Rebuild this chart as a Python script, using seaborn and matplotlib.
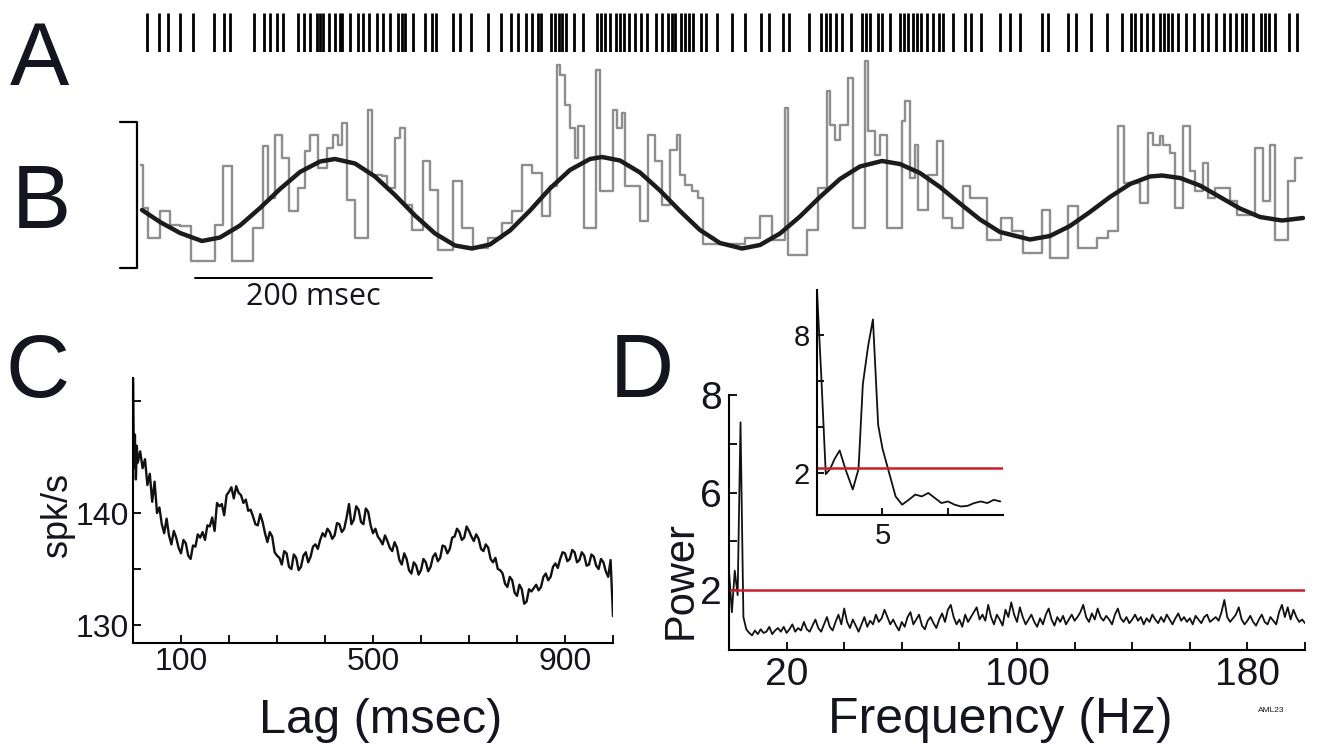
import numpy as np
import pandas as pd
import matplotlib
matplotlib.use("Agg")
import matplotlib.pyplot as plt
from matplotlib.ticker import FixedLocator, FixedFormatter
import seaborn as sns

# ---------------- Panel A : spike raster (ms) ----------------
spike_times_ms = [5.9, 16.0, 23.6, 33.8, 44.7, 62.5, 70.9, 75.9, 96.2, 104.6, 109.7, 115.6, 120.7,
                  133.4, 138.4, 143.5, 149.4, 151.9, 154.5, 159.5, 164.6, 168.8, 170.5, 177.3, 184.0,
                  188.2, 193.3, 200.0, 205.1, 211.0, 217.8, 221.1, 223.7, 230.4, 240.5, 246.5, 249.8,
                  264.2, 270.1, 279.4, 293.7, 304.7, 313.2, 319.1, 325.8, 330.9, 336.0, 338.4, 346.9,
                  350.3, 353.6, 356.2, 359.6, 366.3, 373.9, 385.7, 389.1, 392.5, 396.7, 401.7, 405.1,
                  408.5, 412.7, 417.8, 422.8, 427.9, 435.5, 440.6, 445.6, 449.0, 451.5, 456.6, 460.0,
                  463.4, 466.7, 473.5, 477.7, 487.0, 499.6, 510.6, 524.1, 530.9, 542.7, 547.8, 564.6,
                  574.8, 579.0, 582.4, 587.4, 592.5, 600.1, 609.4, 612.7, 616.1, 622.9, 626.2, 633.0,
                  641.4, 644.8, 648.2, 652.4, 655.8, 659.1, 664.2, 669.3, 674.3, 677.7, 686.2, 696.3,
                  701.4, 709.8, 725.8, 734.3, 742.7, 761.2, 766.4, 783.2, 790.0, 802.6, 816.1, 828.8,
                  836.4, 839.8, 844.8, 849.9, 855.0, 860.9, 864.3, 867.6, 871.0, 876.1, 882.8, 889.6,
                  896.3, 901.4, 908.1, 914.9, 919.9, 925.0, 930.0, 933.5, 939.4, 946.1, 949.5, 952.9,
                  957.9, 969.7, 976.5]

# ---------------- Panel B : instantaneous rate (step) + sinusoidal fit ----------------
rate_edges_ms = [0, 2.5, 6.8, 16.9, 25.3, 33.8, 43.0, 63.3, 70.1, 77.6, 95.4, 103.8, 108.0, 113.9,
                 119.8, 125.7, 133.4, 139.3, 143.5, 150.2, 157.8, 162.9, 167.1, 170.5, 174.7, 181.5,
                 192.4, 195.8, 204.2, 208.5, 215.2, 219.4, 223.7, 229.6, 238.9, 244.8, 251.5, 264.2,
                 271.8, 281.1, 293.7, 305.5, 314.0, 322.4, 330.9, 339.3, 346.0, 351.9, 354.5, 358.7,
                 362.9, 367.1, 369.7, 374.7, 384.9, 388.2, 399.2, 402.6, 406.8, 409.3, 422.0, 428.8,
                 434.7, 440.6, 447.3, 453.2, 455.8, 460.0, 465.9, 471.0, 475.2, 510.6, 523.3, 533.4,
                 544.4, 546.9, 562.9, 572.2, 579.8, 582.4, 586.6, 590.8, 597.6, 601.8, 611.9, 614.4,
                 620.3, 624.6, 630.5, 643.1, 645.7, 649.9, 654.1, 656.6, 665.1, 672.7, 677.7, 685.3,
                 694.6, 700.5, 714.9, 726.7, 736.0, 745.3, 761.3, 768.0, 783.2, 791.7, 807.7, 817.0,
                 825.4, 830.5, 844.0, 850.8, 855.0, 860.9, 863.4, 869.4, 873.5, 880.3, 886.2, 890.4,
                 897.2, 901.4, 907.3, 920.0, 925.8, 941.1, 947.8, 953.7, 957.9, 968.9, 974.8, 980.7]
rate_values = [206, 120, 60, 114, 86, 84, 14, 86, 204, 14,
               80, 244, 140, 266, 220, 114, 160, 234, 266, 200,
               240, 266, 246, 290, 136, 60, 316, 186, 184, 160,
               260, 280, 126, 76, 214, 156, 36, 174, 80, 40,
               60, 90, 114, 206, 190, 104, 164, 406, 386, 326,
               280, 220, 284, 80, 396, 154, 316, 280, 310, 164,
               94, 266, 214, 126, 236, 266, 186, 166, 154, 140,
               48, 60, 104, 56, 320, 26, 76, 160, 354, 286,
               256, 286, 380, 80, 414, 274, 226, 266, 80, 294,
               334, 180, 246, 116, 186, 254, 100, 80, 164, 140,
               56, 100, 74, 30, 116, 20, 124, 40, 60, 74,
               284, 170, 130, 270, 246, 264, 246, 230, 120, 284,
               194, 154, 210, 140, 160, 134, 106, 240, 134, 246,
               56, 174, 220]

fit_t_ms = [1.7, 16.9, 33.8, 52.3, 67.5, 84.4, 101.3, 118.2, 135.0, 151.9, 164.6, 181.5, 198.3,
            215.2, 232.1, 249.0, 265.9, 280.2, 295.4, 312.3, 329.2, 346.0, 362.9, 379.8, 389.9,
            405.1, 422.0, 438.9, 455.8, 472.6, 489.5, 508.1, 523.3, 540.2, 557.0, 573.9, 590.8,
            607.7, 626.2, 641.4, 658.3, 675.2, 692.1, 709.0, 725.8, 751.2, 768.0, 784.9, 801.8,
            818.7, 835.6, 852.4, 862.6, 877.8, 894.6, 911.5, 928.4, 945.3, 963.8, 981.6]
fit_rate = [116, 92, 70, 54, 61, 85, 120, 158, 192, 213, 218, 209, 183,
            146, 105, 69, 45, 39, 47, 75, 115, 159, 196, 218, 222,
            215, 191, 155, 114, 76, 50, 39, 46, 69, 103, 142, 178,
            203, 214, 208, 190, 162, 129, 97, 72, 57, 64, 84, 112,
            142, 168, 183, 185, 180, 165, 142, 119, 102, 95, 100]

bracket_rate = [0, 292]          # vertical scale bracket (spk/s)
scalebar_ms = [46.4, 246.4]      # 200 msec bar

# ---------------- Panel C : autocorrelation ----------------
lag_ms = [0, 2, 4, 6, 8, 10, 15, 20, 25, 30, 35, 40, 45, 50, 55] + list(range(60, 1001, 5))
acorr_spk = [153.0, 144.0, 147.0, 143.0, 146.0, 144.5, 145.5, 144.0, 144.8, 142.5, 143.5, 141.0, 142.8, 140.0, 140.5,
             139.0, 138.2, 139.5, 138.0, 137.2, 138.4, 137.8, 136.9, 136.4, 137.6,
             137.3, 136.2, 135.9, 137.1, 137.0, 138.1, 137.8, 138.3, 137.6, 138.9,
             138.8, 139.6, 138.4, 140.9, 140.6, 140.8, 139.8, 141.6, 141.9, 142.3,
             141.3, 142.4, 141.8, 141.6, 140.9, 141.2, 140.2, 140.3, 139.7, 139.0,
             138.9, 139.9, 139.2, 138.2, 137.4, 138.3, 137.9, 136.5, 136.2, 136.0,
             135.4, 136.6, 136.4, 135.2, 135.0, 136.3, 136.0, 134.9, 135.2, 136.2,
             136.5, 135.6, 136.1, 137.0, 137.2, 136.8, 137.6, 138.2, 137.9, 138.6,
             138.3, 137.7, 138.0, 139.1, 139.0, 138.3, 138.6, 139.6, 140.8, 139.0,
             139.4, 140.6, 140.3, 139.2, 139.0, 140.4, 140.1, 138.9, 138.2, 138.6,
             137.9, 137.6, 137.2, 138.0, 137.5, 136.9, 136.6, 137.4, 136.9, 135.8,
             135.4, 136.4, 135.9, 134.9, 134.6, 135.6, 135.3, 134.5, 134.9, 135.9,
             135.6, 134.8, 135.2, 136.1, 136.4, 135.7, 136.0, 137.1, 137.0, 136.4,
             136.8, 137.8, 137.9, 138.6, 138.3, 137.6, 137.8, 138.8, 138.4, 137.9,
             137.5, 138.1, 137.7, 136.8, 136.6, 137.2, 136.9, 135.9, 135.6, 136.0,
             135.0, 134.9, 134.6, 133.7, 133.4, 134.3, 134.0, 132.9, 132.6, 133.6,
             133.2, 131.9, 132.1, 133.2, 133.0, 133.3, 133.6, 133.1, 133.4, 134.3,
             134.6, 134.0, 134.3, 135.2, 135.5, 135.1, 135.9, 136.5, 136.4, 135.7,
             135.9, 136.7, 136.5, 135.6, 135.8, 136.5, 136.2, 135.3, 135.4, 136.3,
             136.1, 135.3, 135.0, 135.9, 135.6, 134.8, 134.3, 135.8, 130.8]

# ---------------- Panel D : power spectrum ----------------
freq_hz = list(range(0, 201))
power = [2.8, 1.1, 2.8, 1.8, 7.44, 0.9, 0.4,
         0.25, 0.15, 0.35,
         0.2, 0.4, 0.25, 0.3, 0.5, 0.2, 0.35, 0.45, 0.3, 0.5,
         0.25, 0.4, 0.6, 0.3, 0.45, 0.35, 0.7, 0.4, 0.3, 0.55,
         0.8, 0.45, 0.3, 0.6, 0.9, 0.5, 0.35, 0.7, 1.0, 0.6,
         1.25, 0.7, 0.45, 0.8, 0.55, 0.3, 0.6, 0.9, 0.5, 0.75,
         0.6, 1.0, 0.7, 0.85, 1.2, 0.9, 0.6, 0.8, 0.55, 0.35,
         0.7, 0.5, 0.9, 1.1, 0.6, 0.8, 1.0, 0.55, 0.4, 0.75,
         0.9, 0.65, 0.45, 0.8, 1.05, 0.7, 1.2, 1.4, 0.9, 0.6,
         0.8, 0.5, 1.0, 0.7, 0.9, 1.1, 1.3, 0.8, 1.0, 0.75,
         1.4, 0.9, 0.6, 1.0, 0.8, 0.55, 1.2, 0.9, 1.5, 1.0,
         0.7, 1.3, 0.9, 0.6, 0.8, 1.0, 0.7, 0.5, 0.85, 0.6,
         1.0, 1.25, 0.8, 0.55, 0.9, 0.7, 0.95, 0.6, 0.8, 1.0,
         0.75, 0.9, 1.1, 1.4, 0.9, 0.7, 1.05, 0.8, 1.25, 0.9,
         0.75, 0.95, 0.8, 0.6, 1.0, 1.25, 0.85, 0.7, 0.9, 0.65,
         0.8, 1.0, 0.75, 0.9, 0.6, 0.85, 0.7, 1.0, 0.8, 0.65,
         0.9, 0.7, 1.0, 0.8, 0.6, 0.85, 1.05, 0.75, 0.9, 0.7,
         0.85, 0.6, 0.95, 0.8, 0.65, 0.9, 1.0, 0.7, 0.8, 0.9,
         0.75, 1.1, 1.6, 0.9, 0.7, 0.85, 1.0, 1.3, 0.8, 0.6,
         0.75, 0.95, 0.7, 0.55, 0.8, 1.0, 0.7, 0.6, 0.9, 0.75,
         0.6, 1.1, 1.4, 0.9, 1.3, 0.8, 1.2, 0.9, 0.7, 0.8,
         0.65]
threshold = 2.0

inset_freq_hz = [0, 0.33, 0.67, 1.0, 1.35, 1.73, 2.17, 2.73, 3.17, 3.5, 3.9, 4.27, 4.67, 5.0, 5.5,
                 6.0, 6.5, 7.0, 7.5, 8.0, 8.5, 9.0, 9.5, 10.0, 10.5, 11.0, 11.5, 12.0, 12.5, 13.0, 13.5, 14.0]
inset_power = [9.93, 6.15, 1.93, 2.15, 2.6, 2.96, 2.15, 1.26, 2.15, 5.85, 7.5, 8.67, 4.07, 3.04, 2.0,
               0.96, 0.6, 0.81, 1.04, 0.96, 1.11, 0.89, 0.67, 0.74, 0.6, 0.52, 0.55, 0.67, 0.74, 0.67, 0.81, 0.74]
inset_threshold = 2.2

# ================= drawing =================
sns.set_theme(style="white")
plt.rcParams['font.family'] = ['Liberation Sans', 'DejaVu Sans']
plt.rcParams['axes.edgecolor'] = 'black'
plt.rcParams['axes.linewidth'] = 1.5

W, H = 1320, 746
fig = plt.figure(figsize=(W / 100, H / 100), dpi=100)
fig.patch.set_facecolor('white')


def fx(px):
    return px / W


def fy(py):
    return 1 - py / H


TXT = '#15151f'
RED = '#c8202a'
T_MAX = 983.3


def style_ticks(ax, size, length=6, pad=5):
    ax.tick_params(which='both', direction='in', length=length, width=1.3, bottom=True, left=True,
                   top=False, right=False, colors='black', labelsize=size, labelcolor=TXT, pad=pad)


# ---- A ----
axA = fig.add_axes([fx(140), fy(52), fx(1305) - fx(140), fy(13) - fy(52)])
sns.rugplot(x=spike_times_ms, height=1.0, ax=axA, color='black', linewidth=2.0, expand_margins=False)
axA.set_xlim(0, T_MAX)
axA.set_ylim(0, 1)
axA.axis('off')

# ---- B ----
axB = fig.add_axes([fx(140), fy(275), fx(1305) - fx(140), fy(55) - fy(275)])
dfB = pd.DataFrame({'t': rate_edges_ms, 'r': rate_values + [rate_values[-1]]})
sns.lineplot(data=dfB, x='t', y='r', ax=axB, drawstyle='steps-post', color='#8e8e8e', linewidth=1.7,
             estimator=None)
dfFit = pd.DataFrame({'t': fit_t_ms, 'r': fit_rate})
sns.lineplot(data=dfFit, x='t', y='r', ax=axB, color='#1c1c1c', linewidth=3.2, estimator=None)
axB.set_xlim(0, T_MAX)
axB.set_ylim(-14, 426)
axB.axis('off')
axB.plot([-16.9, -2.5, -2.5, -16.9], [bracket_rate[1], bracket_rate[1], bracket_rate[0], bracket_rate[0]],
         color='black', linewidth=1.6, clip_on=False)
axB.plot(scalebar_ms, [-20, -20], color='black', linewidth=1.4, clip_on=False)
axB.text(np.mean(scalebar_ms), -28, '200 msec', ha='center', va='top', fontsize=22,
         family=['Open Sans', 'DejaVu Sans'], color=TXT, clip_on=False)

# ---- C ----
axC = fig.add_axes([fx(133), fy(643), fx(613) - fx(133), fy(378) - fy(643)])
dfC = pd.DataFrame({'lag': lag_ms, 'v': acorr_spk})
sns.lineplot(data=dfC, x='lag', y='v', ax=axC, color='#111111', linewidth=1.7, estimator=None)
axC.set_xlim(0, 1000)
axC.set_ylim(128.4, 152.05)
sns.despine(ax=axC)
axC.xaxis.set_major_locator(FixedLocator(list(range(100, 1001, 100))))
axC.xaxis.set_major_formatter(FixedFormatter(['100', '', '', '', '500', '', '', '', '900', '']))
axC.yaxis.set_major_locator(FixedLocator([130, 135, 140, 145, 150]))
axC.yaxis.set_major_formatter(FixedFormatter(['130', '', '140', '', '']))
style_ticks(axC, 23, pad=3)
axC.set_xlabel('Lag (msec)', fontsize=35, color=TXT, va='top')
axC.xaxis.set_label_coords((381 - 133) / 480, (643 - 698) / 265)
axC.set_ylabel('spk/s', fontsize=26, color=TXT, va='center')
axC.yaxis.set_label_coords((58 - 133) / 480, (643 - 515) / 265)

# ---- D ----
def fwd(v):
    v = np.asarray(v, dtype=float)
    return np.where(v < 6, (v - 2) / 4.0, 1 + (v - 6) / 2.0)


def inv(u):
    u = np.asarray(u, dtype=float)
    return np.where(u < 1, 2 + 4 * u, 6 + 2 * (u - 1))


axD = fig.add_axes([fx(729), fy(650), fx(1305) - fx(729), fy(395) - fy(650)])
dfD = pd.DataFrame({'f': freq_hz, 'p': power})
sns.lineplot(data=dfD, x='f', y='p', ax=axD, color='#111111', linewidth=1.3, estimator=None)
axD.axhline(threshold, color=RED, linewidth=1.8)
axD.set_yscale('function', functions=(fwd, inv))
axD.set_xlim(0, 200)
axD.set_ylim(-0.45, 8)
sns.despine(ax=axD)
axD.xaxis.set_major_locator(FixedLocator(list(range(20, 201, 20))))
axD.xaxis.set_major_formatter(FixedFormatter(['20', '', '', '', '100', '', '', '', '180', '']))
axD.yaxis.set_major_locator(FixedLocator([2, 4, 6, 7, 8]))
axD.yaxis.set_major_formatter(FixedFormatter(['2', '', '6', '', '8']))
axD.yaxis.set_minor_locator(FixedLocator([]))
style_ticks(axD, 28)
axD.set_xlabel('Frequency (Hz)', fontsize=36, color=TXT, va='top')
axD.xaxis.set_label_coords((1000 - 729) / 576, (650 - 697) / 255)
axD.set_ylabel('Power', fontsize=30, color=TXT, va='center')
axD.yaxis.set_label_coords((681 - 729) / 576, (650 - 580) / 255)

# ---- D inset ----
axI = fig.add_axes([fx(817), fy(515), fx(1003) - fx(817), fy(290) - fy(515)])
dfI = pd.DataFrame({'f': inset_freq_hz, 'p': inset_power})
sns.lineplot(data=dfI, x='f', y='p', ax=axI, color='#111111', linewidth=1.3, estimator=None)
axI.axhline(inset_threshold, color=RED, linewidth=1.8)
axI.set_xlim(0, 14.2)
axI.set_ylim(0.15, 9.95)
sns.despine(ax=axI)
axI.xaxis.set_major_locator(FixedLocator([5, 10]))
axI.xaxis.set_major_formatter(FixedFormatter(['5', '']))
axI.yaxis.set_major_locator(FixedLocator([2, 4, 6, 8]))
axI.yaxis.set_major_formatter(FixedFormatter(['2', '', '', '8']))
style_ticks(axI, 21, length=5)
axI.set_xlabel('')
axI.set_ylabel('')
axI.patch.set_alpha(0)

# ---- panel letters ----
for letter, (px, py) in {'A': (10, 85), 'B': (12, 228), 'C': (6, 397), 'D': (610, 397)}.items():
    fig.text(fx(px), fy(py), letter, fontsize=64, color=TXT, va='baseline', ha='left')
fig.text(fx(1258), fy(712), 'AML23', fontsize=6, color=TXT, va='baseline', ha='left')

fig.savefig('out.png', dpi=100, facecolor='white')
